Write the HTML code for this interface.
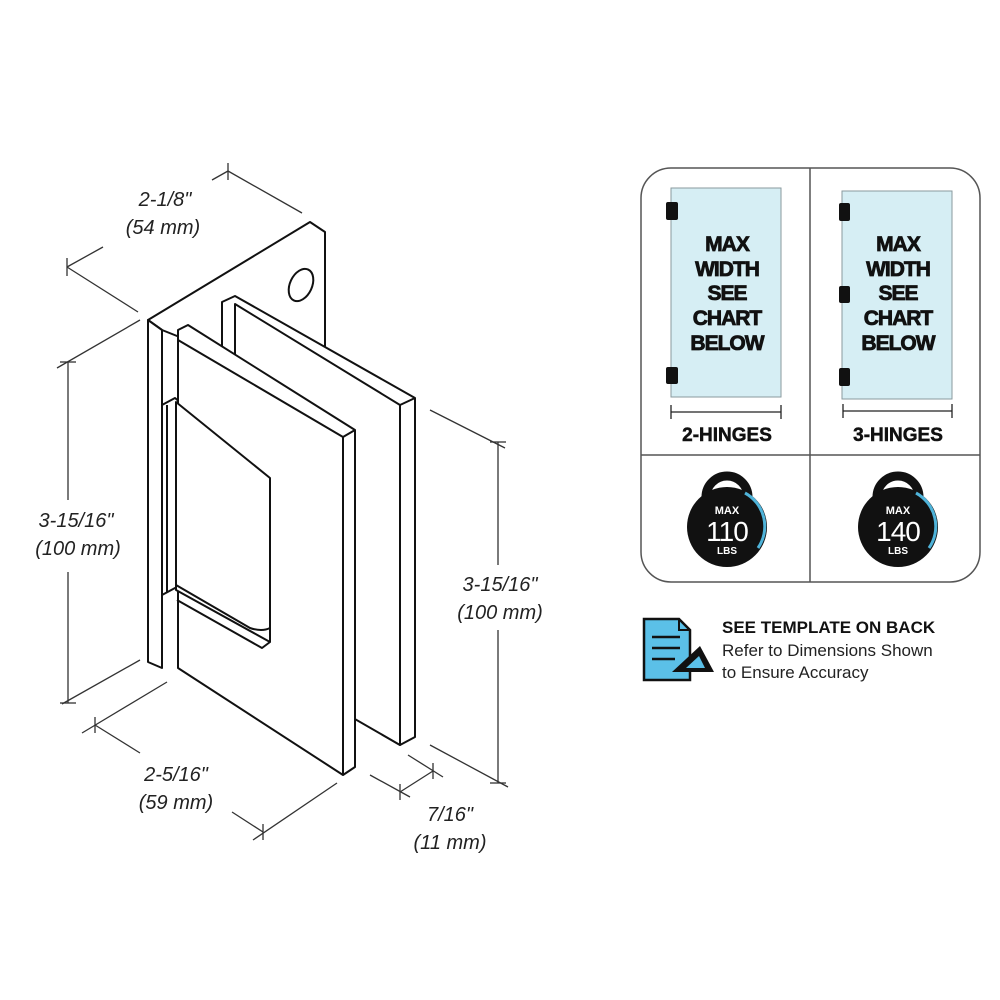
<!DOCTYPE html>
<html><head><meta charset="utf-8"><style>
html,body{margin:0;padding:0;background:#fff;}
svg{display:block;}
.d{font-family:"Liberation Sans",Arial,sans-serif;font-style:italic;font-size:20px;fill:#222;}
.b{font-family:"Liberation Sans",Arial,sans-serif;font-weight:bold;fill:#111;}
</style></head><body>
<svg width="1000" height="1000" viewBox="0 0 1000 1000" xmlns="http://www.w3.org/2000/svg">
<g fill="#fff" stroke="#111" stroke-width="2" stroke-linejoin="round">
<polygon points="148,320 310,222 325,232 325,395 162,330"/>
<polygon points="148,320 162,330 162,668 148,662"/>
<ellipse cx="301" cy="285" rx="11" ry="17" transform="rotate(25 301 285)"/>
<polygon points="222,302 235,296 415,398 415,737 400,745 222,640"/>
<polygon points="235,304 400,405 400,745 235,650" />
<line x1="400" y1="405" x2="415" y2="398"/>
<polygon points="162,405 175,398 270,478 270,640 175,588 162,595"/>
<polygon points="178,330 188,325 355,430 355,767 343,775 178,668"/>
<line x1="343" y1="437" x2="343" y2="775"/>
<line x1="178" y1="340" x2="343" y2="437"/>
<line x1="343" y1="437" x2="355" y2="430"/>
</g>
<g fill="#fff" stroke="#111" stroke-width="2" stroke-linejoin="round">
<polygon points="176,402 270,478 270,642 176,590"/>
<path d="M176,585 L250,628 Q262,632 270,628" fill="none"/>
<path d="M177,600 L262,648 L270,642" fill="none"/>
<line x1="178" y1="600" x2="178" y2="668"/>
<line x1="167" y1="405" x2="167" y2="593"/>
</g>
<g stroke="#333" stroke-width="1.3" fill="none">
<line x1="67" y1="267" x2="103" y2="247"/><line x1="212" y1="180" x2="228" y2="171"/>
<line x1="67" y1="267" x2="138" y2="312"/><line x1="228" y1="171" x2="302" y2="213"/>
<line x1="67" y1="258" x2="67" y2="276"/><line x1="228" y1="163" x2="228" y2="180"/>
<line x1="57" y1="368" x2="140" y2="320"/><line x1="62" y1="704" x2="140" y2="660"/>
<line x1="68" y1="362" x2="68" y2="500"/><line x1="68" y1="572" x2="68" y2="703"/>
<line x1="60" y1="362" x2="76" y2="362"/><line x1="60" y1="703" x2="76" y2="703"/>
<line x1="167" y1="682" x2="82" y2="733"/>
<line x1="95" y1="725" x2="140" y2="753"/><line x1="232" y1="812" x2="263" y2="832"/>
<line x1="337" y1="783" x2="253" y2="840"/>
<line x1="95" y1="717" x2="95" y2="733"/><line x1="263" y1="824" x2="263" y2="840"/>
<line x1="370" y1="775" x2="410" y2="797"/><line x1="408" y1="755" x2="443" y2="777"/>
<line x1="400" y1="792" x2="433" y2="771"/>
<line x1="400" y1="784" x2="400" y2="800"/><line x1="433" y1="763" x2="433" y2="779"/>
<line x1="430" y1="410" x2="505" y2="448"/><line x1="430" y1="745" x2="508" y2="787"/>
<line x1="498" y1="442" x2="498" y2="565"/><line x1="498" y1="630" x2="498" y2="783"/>
<line x1="490" y1="442" x2="506" y2="442"/><line x1="490" y1="783" x2="506" y2="783"/>
</g>
<text class="d" x="165" y="206" text-anchor="middle">2-1/8"</text>
<text class="d" x="163" y="234" text-anchor="middle">(54 mm)</text>
<text class="d" x="76" y="527" text-anchor="middle">3-15/16"</text>
<text class="d" x="78" y="555" text-anchor="middle">(100 mm)</text>
<text class="d" x="176" y="781" text-anchor="middle">2-5/16"</text>
<text class="d" x="176" y="809" text-anchor="middle">(59 mm)</text>
<text class="d" x="450" y="821" text-anchor="middle">7/16"</text>
<text class="d" x="450" y="849" text-anchor="middle">(11 mm)</text>
<text class="d" x="500" y="591" text-anchor="middle">3-15/16"</text>
<text class="d" x="500" y="619" text-anchor="middle">(100 mm)</text>
<rect x="641" y="168" width="339" height="414" rx="30" fill="#fff" stroke="#555" stroke-width="1.5"/>
<line x1="810" y1="168" x2="810" y2="582" stroke="#555" stroke-width="1.5"/>
<line x1="641" y1="455" x2="980" y2="455" stroke="#555" stroke-width="1.5"/>
<rect x="671" y="188" width="110" height="209" fill="#d6eef4" stroke="#8a9a9e" stroke-width="1"/>
<rect x="842" y="191" width="110" height="208" fill="#d6eef4" stroke="#8a9a9e" stroke-width="1"/>
<g fill="#111">
<rect x="666" y="202" width="12" height="18" rx="2"/><rect x="666" y="367" width="12" height="17" rx="2"/>
<rect x="839" y="203" width="11" height="18" rx="2"/><rect x="839" y="286" width="11" height="17" rx="2"/><rect x="839" y="368" width="11" height="18" rx="2"/>
</g>
<g class="b" font-size="21" text-anchor="middle" letter-spacing="-1" stroke="#111" stroke-width="0.8">
<text x="727" y="251">MAX</text><text x="727" y="276">WIDTH</text><text x="727" y="300">SEE</text><text x="727" y="325">CHART</text><text x="727" y="350">BELOW</text>
<text x="898" y="251">MAX</text><text x="898" y="276">WIDTH</text><text x="898" y="300">SEE</text><text x="898" y="325">CHART</text><text x="898" y="350">BELOW</text>
</g>
<g stroke="#222" stroke-width="1.3">
<line x1="671" y1="412" x2="781" y2="412"/><line x1="671" y1="405" x2="671" y2="419"/><line x1="781" y1="405" x2="781" y2="419"/>
<line x1="843" y1="411" x2="952" y2="411"/><line x1="843" y1="404" x2="843" y2="418"/><line x1="952" y1="404" x2="952" y2="418"/>
</g>
<text class="b" x="727" y="441" font-size="19" text-anchor="middle" stroke="#111" stroke-width="0.5">2-HINGES</text>
<text class="b" x="898" y="441" font-size="19" text-anchor="middle" stroke="#111" stroke-width="0.5">3-HINGES</text>
<g>
<circle cx="727" cy="497" r="21" fill="none" stroke="#111" stroke-width="9"/>
<circle cx="727" cy="527" r="40" fill="#111"/>
<path d="M745,493 A38,38 0 0 1 758,548" fill="none" stroke="#4fb3d9" stroke-width="3"/>
<text x="727" y="514" font-size="11" text-anchor="middle" class="b" style="fill:#fff">MAX</text>
<text x="727" y="541" font-size="28" text-anchor="middle" font-family="Liberation Sans, sans-serif" fill="#fff" letter-spacing="-1">110</text>
<text x="727" y="554" font-size="10" text-anchor="middle" class="b" style="fill:#fff">LBS</text>
<circle cx="898" cy="497" r="21" fill="none" stroke="#111" stroke-width="9"/>
<circle cx="898" cy="527" r="40" fill="#111"/>
<path d="M916,493 A38,38 0 0 1 929,548" fill="none" stroke="#4fb3d9" stroke-width="3"/>
<text x="898" y="514" font-size="11" text-anchor="middle" class="b" style="fill:#fff">MAX</text>
<text x="898" y="541" font-size="28" text-anchor="middle" font-family="Liberation Sans, sans-serif" fill="#fff" letter-spacing="-1">140</text>
<text x="898" y="554" font-size="10" text-anchor="middle" class="b" style="fill:#fff">LBS</text>
</g>
<polygon points="644,619 679,619 690,630 690,680 644,680" fill="#5bc0e8" stroke="#111" stroke-width="2.5"/>
<polyline points="679,619 679,630 690,630" fill="none" stroke="#111" stroke-width="2"/>
<g stroke="#111" stroke-width="2.5"><line x1="652" y1="637" x2="680" y2="637"/><line x1="652" y1="648" x2="680" y2="648"/><line x1="652" y1="659" x2="675" y2="659"/></g>
<polygon points="672,672 700,646 714,672" fill="#111"/>
<polygon points="686,668 699,656 705,668" fill="#5bc0e8"/>
<text class="b" x="722" y="633" font-size="17">SEE TEMPLATE ON BACK</text>
<text x="722" y="656" font-size="17" font-family="Liberation Sans, sans-serif" fill="#222">Refer to Dimensions Shown</text>
<text x="722" y="678" font-size="17" font-family="Liberation Sans, sans-serif" fill="#222">to Ensure Accuracy</text>
</svg>
</body></html>
